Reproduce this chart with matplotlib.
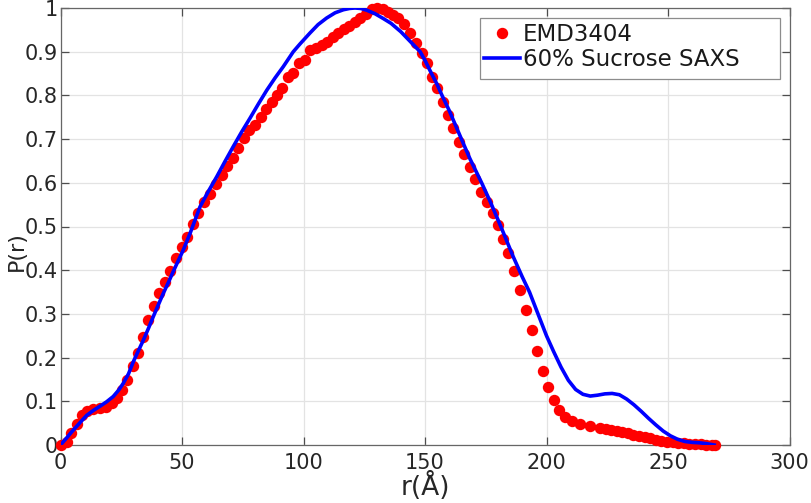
import matplotlib
matplotlib.use("Agg")
import matplotlib.pyplot as plt
from matplotlib.patches import Rectangle

# EMD3404 (red dots): r (Å) and P(r)
emd_r = [0, 2.5, 4.5, 6.7, 8.7, 11, 13.5, 16.3, 18.7, 21, 23.1, 25.4, 27.5, 29.7, 31.9,
         34.1, 36.1, 38.5, 40.7, 43, 45, 47.5, 49.9, 52.2, 54.7, 56.7, 59, 61.5, 64, 66.3,
         68.4, 70.9, 73.2, 75.5, 77.7, 80, 82.4, 84.6, 86.9, 89, 91.2, 93.5, 95.8, 98.1,
         100.6, 102.7, 105.1, 107.5, 109.5, 112, 114.3, 116.7, 118.8, 121.2, 123.2, 125.7,
         128.1, 130.4, 132.6, 134.9, 137, 139, 141.4, 143.8, 146.1, 148.6, 150.8, 152.8,
         155, 157.3, 159.3, 161.6, 164, 166.2, 168.5, 170.6, 172.9, 175.4, 177.9, 180.2,
         182.2, 184.3, 186.6, 189.1, 191.6, 193.9, 196.2, 198.4, 200.7, 203.1, 205.3, 207.6,
         210.4, 213.8, 217.9, 222, 224.3, 226.6, 228.9, 231.2, 233.5, 235.8, 238.1, 240.4,
         242.7, 245, 247.3, 249.6, 251.9, 254.2, 256.5, 258.8, 261.1, 263.4, 265.7, 268, 269.5]
emd_p = [0, 0.008, 0.027, 0.049, 0.069, 0.077, 0.082, 0.084, 0.088, 0.095, 0.108, 0.125,
         0.149, 0.180, 0.211, 0.248, 0.285, 0.319, 0.347, 0.374, 0.399, 0.429, 0.452, 0.477,
         0.506, 0.532, 0.557, 0.574, 0.597, 0.618, 0.638, 0.656, 0.679, 0.702, 0.721, 0.732,
         0.750, 0.770, 0.786, 0.800, 0.816, 0.843, 0.852, 0.874, 0.881, 0.904, 0.908, 0.915,
         0.923, 0.933, 0.942, 0.951, 0.958, 0.968, 0.976, 0.987, 0.997, 1.000, 0.998, 0.991,
         0.984, 0.976, 0.963, 0.942, 0.921, 0.898, 0.873, 0.843, 0.816, 0.786, 0.755, 0.725,
         0.694, 0.665, 0.637, 0.608, 0.580, 0.555, 0.530, 0.503, 0.472, 0.439, 0.399, 0.355,
         0.309, 0.263, 0.214, 0.170, 0.133, 0.103, 0.080, 0.065, 0.054, 0.048, 0.043, 0.039,
         0.037, 0.035, 0.033, 0.030, 0.027, 0.024, 0.021, 0.018, 0.015, 0.012, 0.010, 0.008,
         0.006, 0.005, 0.004, 0.003, 0.002, 0.0015, 0.001, 0.0005, 0.0]

# 60% Sucrose SAXS (blue line)
saxs_r = [0, 2.5, 4.6, 7.5, 10.8, 13.5, 16.3, 19, 21.7, 24, 25.8, 28, 30, 32, 34.1, 36.2,
          38.2, 40.2, 42.3, 44.4, 46.4, 48.4, 50.5, 53.3, 57.4, 60.8, 64.3, 67.7, 71.1, 74.5,
          78, 81.5, 84.9, 88.3, 91.7, 95.8, 98.6, 102.7, 106, 109.5, 113, 116.4, 119, 121.2,
          123.5, 126, 129.4, 132.8, 136, 140, 144, 148, 150, 152.5, 155, 157, 160, 165, 168.5,
          173.3, 177, 181.2, 186.3, 190, 193, 196.5, 200, 203, 206, 209, 212, 215, 218, 221,
          224, 227, 230, 233, 236, 239, 242, 245, 248, 251, 254, 257, 260, 263, 266, 269]
saxs_p = [0, 0.016, 0.030, 0.048, 0.068, 0.079, 0.089, 0.099, 0.111, 0.126, 0.141, 0.163,
          0.191, 0.215, 0.240, 0.267, 0.294, 0.320, 0.347, 0.372, 0.397, 0.421, 0.446, 0.484,
          0.545, 0.580, 0.614, 0.649, 0.683, 0.716, 0.748, 0.781, 0.812, 0.840, 0.866, 0.900,
          0.918, 0.943, 0.962, 0.977, 0.989, 0.996, 0.999, 1.000, 0.999, 0.995, 0.987, 0.976,
          0.965, 0.946, 0.923, 0.900, 0.880, 0.852, 0.825, 0.800, 0.765, 0.700, 0.655, 0.600,
          0.555, 0.500, 0.431, 0.385, 0.350, 0.300, 0.250, 0.213, 0.178, 0.148, 0.127, 0.116,
          0.112, 0.114, 0.117, 0.118, 0.115, 0.105, 0.092, 0.077, 0.061, 0.046, 0.032, 0.021,
          0.013, 0.008, 0.006, 0.005, 0.003, 0.0]

x_ticks = [0, 50, 100, 150, 200, 250, 300]
y_ticks = [0, 0.1, 0.2, 0.3, 0.4, 0.5, 0.6, 0.7, 0.8, 0.9, 1]
y_tick_labels = ["0", "0.1", "0.2", "0.3", "0.4", "0.5", "0.6", "0.7", "0.8", "0.9", "1"]

plt.rcParams['font.family'] = ['DejaVu Sans']
W, H = 812, 503
fig = plt.figure(figsize=(W / 100, H / 100), dpi=100)
ax = fig.add_axes([60.5 / W, 58 / H, 729 / W, 437 / H])

ax.plot(emd_r, emd_p, linestyle='none', marker='o', markersize=8.2, color='#ff0000',
        markeredgewidth=0, label='EMD3404', clip_on=False, zorder=3)
ax.plot(saxs_r, saxs_p, color='#0000ff', linewidth=2.6, label='60% Sucrose SAXS', zorder=4)

ax.set_xlim(0, 300)
ax.set_ylim(0, 1)
ax.set_xticks(x_ticks)
ax.set_yticks(y_ticks)
ax.set_yticklabels(y_tick_labels)
ax.grid(True, color='#e3e3e3', linewidth=0.9)
ax.set_axisbelow(True)
ax.tick_params(direction='in', length=6, width=0.9, colors='#4d4d4d', labelcolor='#262626',
               labelsize=15, top=True, right=True)
ax.tick_params(axis='x', pad=6)
ax.tick_params(axis='y', pad=2)
for s in ax.spines.values():
    s.set_color('#666666')
    s.set_linewidth(0.9)

ax.set_xlabel('r(Å)', fontsize=19, color='#262626', labelpad=-1)
ax.set_ylabel('P(r)', fontsize=16, color='#262626')
ax.yaxis.set_label_coords(26.5 / W, 0.5, transform=fig.transFigure)
ax.yaxis.label.set_y(0.5)

# legend box (MATLAB style, wide right margin)
box = Rectangle((480 / W, (H - 79) / H), 300 / W, 61 / H, transform=fig.transFigure,
                facecolor='white', edgecolor='#8c8c8c', linewidth=0.9, zorder=5,
                clip_on=False)
ax.add_patch(box)
leg = ax.legend(loc='upper left', bbox_to_anchor=(484 / W, (H - 23) / H),
                bbox_transform=fig.transFigure, borderaxespad=0, borderpad=0,
                fontsize=16.5, frameon=False, handlelength=1.55, numpoints=1,
                handletextpad=0.15, labelspacing=0.08)
leg.set_zorder(6)
for t in leg.get_texts():
    t.set_color('#1a1a1a')

fig.savefig('out.png', dpi=100)
